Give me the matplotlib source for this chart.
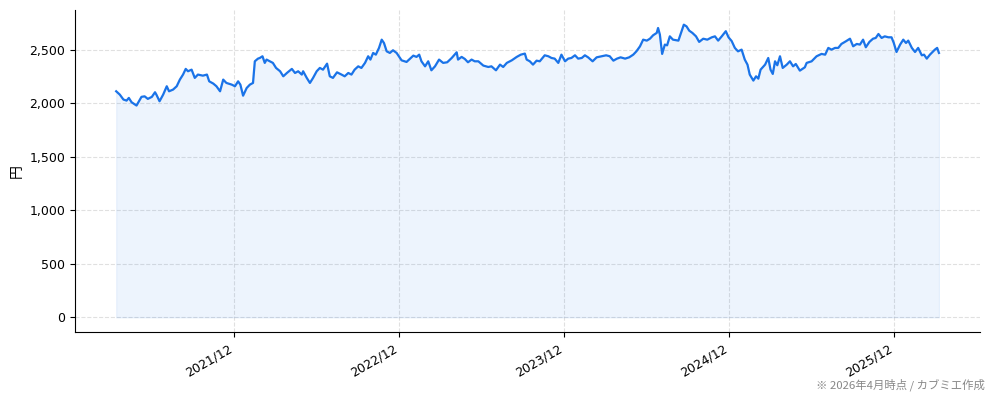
import pandas as pd
import matplotlib
matplotlib.use('Agg')
import matplotlib.pyplot as plt
import matplotlib.dates as mdates
from matplotlib.ticker import FuncFormatter

plt.rcParams['font.family'] = ['DejaVu Sans', 'Noto Sans CJK JP']

# price series (date, yen)
dates = [
    '2021-03-14', '2021-03-22', '2021-03-30', '2021-04-06', '2021-04-11', '2021-04-17', '2021-04-28',
    '2021-05-09', '2021-05-16', '2021-05-23', '2021-06-01', '2021-06-08', '2021-06-11', '2021-06-18',
    '2021-06-26', '2021-07-04', '2021-07-09', '2021-07-18', '2021-07-26', '2021-08-02', '2021-08-09',
    '2021-08-15', '2021-08-20', '2021-08-28', '2021-09-04', '2021-09-11', '2021-09-22', '2021-10-01',
    '2021-10-06', '2021-10-15', '2021-10-22', '2021-10-30', '2021-11-06', '2021-11-13', '2021-11-25',
    '2021-12-02', '2021-12-09', '2021-12-14', '2021-12-20', '2021-12-28', '2022-01-04', '2022-01-11',
    '2022-01-15', '2022-01-22', '2022-01-26', '2022-02-01', '2022-02-06', '2022-02-10', '2022-02-17',
    '2022-02-24', '2022-03-03', '2022-03-12', '2022-03-19', '2022-03-27', '2022-04-07', '2022-04-14',
    '2022-04-21', '2022-04-29', '2022-05-02', '2022-05-10', '2022-05-17', '2022-05-24', '2022-06-01',
    '2022-06-08', '2022-06-15', '2022-06-24', '2022-06-30', '2022-07-07', '2022-07-16', '2022-07-26',
    '2022-08-02', '2022-08-10', '2022-08-17', '2022-08-24', '2022-09-01', '2022-09-08', '2022-09-16',
    '2022-09-23', '2022-09-28', '2022-10-04', '2022-10-10', '2022-10-17', '2022-10-23', '2022-10-28',
    '2022-11-03', '2022-11-10', '2022-11-17', '2022-11-25', '2022-12-06', '2022-12-17', '2022-12-24',
    '2023-01-01', '2023-01-08', '2023-01-14', '2023-01-19', '2023-01-27', '2023-02-03', '2023-02-10',
    '2023-02-18', '2023-02-27', '2023-03-08', '2023-03-17', '2023-03-27', '2023-04-07', '2023-04-10',
    '2023-04-18', '2023-04-25', '2023-05-02', '2023-05-10', '2023-05-17', '2023-05-25', '2023-06-05',
    '2023-06-16', '2023-06-23', '2023-07-03', '2023-07-12', '2023-07-19', '2023-07-27', '2023-08-07',
    '2023-08-18', '2023-08-27', '2023-09-05', '2023-09-09', '2023-09-16', '2023-09-23', '2023-10-01',
    '2023-10-08', '2023-10-19', '2023-10-27', '2023-11-03', '2023-11-10', '2023-11-18', '2023-11-25',
    '2023-12-03', '2023-12-10', '2023-12-17', '2023-12-25', '2024-01-01', '2024-01-09', '2024-01-16',
    '2024-01-23', '2024-02-02', '2024-02-11', '2024-02-22', '2024-03-03', '2024-03-11', '2024-03-19',
    '2024-03-27', '2024-04-04', '2024-04-14', '2024-04-23', '2024-05-02', '2024-05-09', '2024-05-17',
    '2024-05-24', '2024-06-01', '2024-06-08', '2024-06-15', '2024-06-23', '2024-06-26', '2024-06-30',
    '2024-07-05', '2024-07-11', '2024-07-16', '2024-07-22', '2024-07-29', '2024-08-10', '2024-08-17',
    '2024-08-22', '2024-08-28', '2024-09-03', '2024-09-10', '2024-09-18', '2024-09-25', '2024-10-04',
    '2024-10-13', '2024-10-23', '2024-10-30', '2024-11-06', '2024-11-14', '2024-11-23', '2024-11-29',
    '2024-12-06', '2024-12-13', '2024-12-20', '2024-12-28', '2025-01-04', '2025-01-10', '2025-01-15',
    '2025-01-23', '2025-01-29', '2025-02-03', '2025-02-08', '2025-02-18', '2025-02-25', '2025-03-02',
    '2025-03-07', '2025-03-12', '2025-03-17', '2025-03-23', '2025-03-29', '2025-04-07', '2025-04-14',
    '2025-04-21', '2025-04-27', '2025-05-06', '2025-05-17', '2025-05-21', '2025-06-01', '2025-06-12',
    '2025-06-23', '2025-07-01', '2025-07-08', '2025-07-15', '2025-07-23', '2025-07-30', '2025-08-06',
    '2025-08-16', '2025-08-25', '2025-09-01', '2025-09-09', '2025-09-16', '2025-09-23', '2025-09-29',
    '2025-10-07', '2025-10-15', '2025-10-21', '2025-10-27', '2025-11-03', '2025-11-10', '2025-11-18',
    '2025-11-25', '2025-11-30', '2025-12-06', '2025-12-14', '2025-12-21', '2025-12-27', '2026-01-01',
    '2026-01-09', '2026-01-16', '2026-01-23', '2026-01-31', '2026-02-05', '2026-02-11', '2026-02-18',
    '2026-02-24', '2026-03-01', '2026-03-06', '2026-03-10',
]
prices = [
    2111, 2080, 2034, 2024, 2049, 2009, 1978,
    2059, 2064, 2040, 2059, 2102, 2080, 2018,
    2080, 2158, 2111, 2127, 2158, 2220, 2267,
    2320, 2298, 2313, 2236, 2267, 2257, 2267,
    2204, 2183, 2158, 2111, 2220, 2189, 2173,
    2158, 2204, 2173, 2070, 2142, 2173, 2189,
    2391, 2416, 2422, 2438, 2376, 2407, 2391,
    2376, 2329, 2298, 2251, 2282, 2320, 2282,
    2298, 2267, 2298, 2236, 2189, 2236, 2298,
    2329, 2313, 2369, 2251, 2236, 2288, 2267,
    2251, 2282, 2267, 2313, 2344, 2329, 2376,
    2438, 2407, 2469, 2453, 2516, 2593, 2562,
    2484, 2469, 2494, 2469, 2400, 2385, 2413,
    2444, 2432, 2453, 2391, 2344, 2391, 2307,
    2344, 2407, 2376, 2382, 2422, 2475, 2407,
    2432, 2413, 2382, 2407, 2391, 2391, 2351,
    2338, 2344, 2307, 2360, 2338, 2376, 2400,
    2432, 2453, 2463, 2407, 2391, 2360, 2397,
    2391, 2447, 2438, 2422, 2416, 2376, 2453,
    2391, 2416, 2422, 2447, 2416, 2422, 2447,
    2428, 2391, 2428, 2438, 2447, 2438, 2397,
    2416, 2428, 2416, 2428, 2453, 2484, 2531,
    2593, 2584, 2602, 2634, 2656, 2702, 2640,
    2460, 2547, 2540, 2624, 2593, 2584, 2672,
    2733, 2717, 2677, 2656, 2624, 2572, 2602,
    2593, 2615, 2624, 2584, 2624, 2672, 2615,
    2580, 2516, 2484, 2500, 2407, 2360, 2267,
    2211, 2251, 2229, 2313, 2360, 2422, 2313,
    2273, 2391, 2354, 2438, 2329, 2360, 2391,
    2344, 2366, 2304, 2335, 2376, 2391, 2438,
    2460, 2453, 2516, 2500, 2516, 2516, 2553,
    2578, 2602, 2531, 2553, 2547, 2593, 2522,
    2572, 2602, 2609, 2646, 2609, 2624, 2615,
    2615, 2562, 2478, 2547, 2593, 2562, 2584,
    2516, 2478, 2516, 2447, 2453, 2416, 2453,
    2478, 2500, 2516, 2469,
]
note = '※ 2026年4月時点 / カブミエ作成'

line_color = '#1a73e8'

x = pd.to_datetime(dates)

fig = plt.figure(figsize=(9.94, 4.01), dpi=100)
ax = fig.add_axes([0.0755, 0.172, 0.9105, 0.803])

ax.plot(x, prices, color=line_color, lw=1.6)
ax.fill_between(x, prices, 0, color=line_color, alpha=0.08, lw=0.8)

ax.xaxis.set_major_locator(mdates.MonthLocator(bymonth=12))
ax.xaxis.set_major_formatter(mdates.DateFormatter('%Y/%m'))
plt.setp(ax.get_xticklabels(), rotation=30, ha='right', fontsize=9)
ax.yaxis.set_major_formatter(FuncFormatter(lambda v, p: f'{int(v):,}'))
ax.tick_params(axis='y', labelsize=9)
ax.set_ylabel('円', fontsize=10, family=['Noto Sans CJK JP'])

ax.grid(True, linestyle='--', color='#cccccc', alpha=0.6, lw=0.8)
ax.set_axisbelow(True)
ax.spines['top'].set_visible(False)
ax.spines['right'].set_visible(False)

fig.text(0.991, 0.025, note, ha='right', va='bottom', fontsize=8.2, color='#888888',
         family=['Noto Sans CJK JP', 'DejaVu Sans'])

plt.savefig('out.png', dpi=100)
